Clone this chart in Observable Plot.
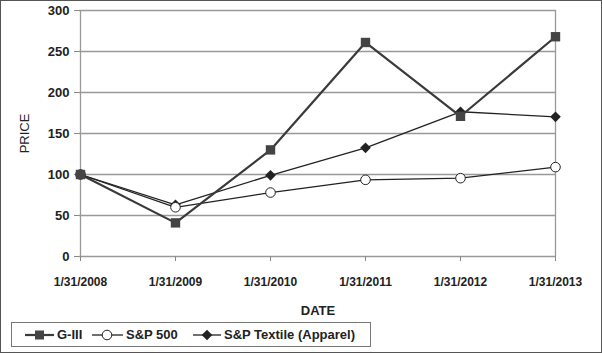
<!DOCTYPE html>
<html><head><meta charset="utf-8">
<script src="https://cdn.jsdelivr.net/npm/d3@7"></script>
<script src="https://cdn.jsdelivr.net/npm/@observablehq/plot@0.6"></script>
<style>
body{margin:0;background:#fff;font-family:"Liberation Sans",Arial,sans-serif;}
#wrap{position:relative;width:602px;height:353px;overflow:hidden;background:#fff}
#wrap svg.plot{position:absolute;left:0;top:0}
#frame{position:absolute;left:0;top:0;width:602px;height:353px;box-sizing:border-box;border:1.5px solid #555;pointer-events:none}
#legend{position:absolute;left:11px;top:322px;width:360px;height:25px;box-sizing:border-box;border:1px solid #777;background:#fff}
.item{position:absolute;top:0;height:23px;display:flex;align-items:center}
.item span{font-size:13px;font-weight:bold;color:#222;margin-left:2px;white-space:nowrap}
</style>
</head><body>
<div id="wrap"><div id="frame"></div><div id="legend"></div></div>
<script>
const dates = ["1/31/2008","1/31/2009","1/31/2010","1/31/2011","1/31/2012","1/31/2013"];
const g3 = [100, 41, 130, 261, 171, 268];
const sp500 = [100, 60, 78, 93.5, 95.5, 109];
const textile = [100, 63, 99, 132.5, 176.5, 170.3];
const yTicks = [0, 50, 100, 150, 200, 250, 300];
const seriesNames = ["G-III", "S&P 500", "S&P Textile (Apparel)"];

const rows = vals => vals.map((v, i) => ({date: dates[i], value: v}));
const g3Rows = rows(g3), spRows = rows(sp500), txRows = rows(textile);

const chart = Plot.plot({
  width: 602, height: 353,
  marginLeft: 79, marginRight: 46, marginTop: 10, marginBottom: 97,
  x: {type: "point", domain: dates, padding: 0},
  y: {domain: [0, 300]},
  style: {fontFamily: '"Liberation Sans", Arial, sans-serif', color: "#222", background: "transparent"},
  marks: [
    Plot.ruleY(yTicks, {stroke: "#999", strokeWidth: 1.3}),
    Plot.ruleX([dates[0], dates[dates.length - 1]], {y1: 0, y2: 300, stroke: "#999", strokeWidth: 1.3}),
    Plot.axisY({ticks: yTicks, tickSize: 5, tickPadding: 5, fontSize: 13, fontWeight: "bold", stroke: "#888", fill: "#222", label: null}),
    Plot.axisX({tickSize: 5, tickPadding: 16, fontSize: 12, fontWeight: "bold", stroke: "#888", fill: "#222", label: null}),
    Plot.text(["PRICE"], {frameAnchor: "left", textAnchor: "middle", lineAnchor: "middle", dx: -55, rotate: -90, fontSize: 13, fill: "#222", text: d => d}),
    Plot.text(["DATE"], {frameAnchor: "bottom", textAnchor: "middle", lineAnchor: "middle", dy: 54, fontSize: 13, fontWeight: "bold", fill: "#222", text: d => d}),
    Plot.line(txRows, {x: "date", y: "value", stroke: "#222", strokeWidth: 1.3}),
    Plot.line(spRows, {x: "date", y: "value", stroke: "#222", strokeWidth: 1.3}),
    Plot.line(g3Rows, {x: "date", y: "value", stroke: "#3a3a3a", strokeWidth: 2.2}),
    Plot.dot(txRows, {x: "date", y: "value", symbol: "diamond2", r: 4.8, fill: "#222", stroke: "none"}),
    Plot.dot(spRows, {x: "date", y: "value", symbol: "circle", r: 4.8, fill: "white", stroke: "#222", strokeWidth: 1}),
    Plot.dot(g3Rows, {x: "date", y: "value", symbol: "square", r: 5.3, fill: "#444", stroke: "none"})
  ]
});
chart.classList.add("plot");
document.getElementById("wrap").insertBefore(chart, document.getElementById("frame"));

// legend
const legend = document.getElementById("legend");
const symbols = [
  `<line x1="0" y1="7" x2="29" y2="7" stroke="#3a3a3a" stroke-width="2.2"/><rect x="10" y="2.5" width="9" height="9" fill="#444"/>`,
  `<line x1="0" y1="7" x2="31" y2="7" stroke="#222" stroke-width="1.3"/><circle cx="15" cy="7" r="4.8" fill="white" stroke="#222"/>`,
  `<line x1="0" y1="7" x2="28" y2="7" stroke="#222" stroke-width="1.3"/><path d="M14,1.7L19.3,7L14,12.3L8.7,7Z" fill="#222"/>`
];
const lefts = [13, 80, 181];
const widths = [30, 32, 29];
seriesNames.forEach((name, i) => {
  const d = document.createElement("div");
  d.className = "item";
  d.style.left = lefts[i] + "px";
  d.innerHTML = `<svg width="${widths[i]}" height="14">${symbols[i]}</svg><span>${name}</span>`;
  legend.appendChild(d);
});
</script>
</body></html>
